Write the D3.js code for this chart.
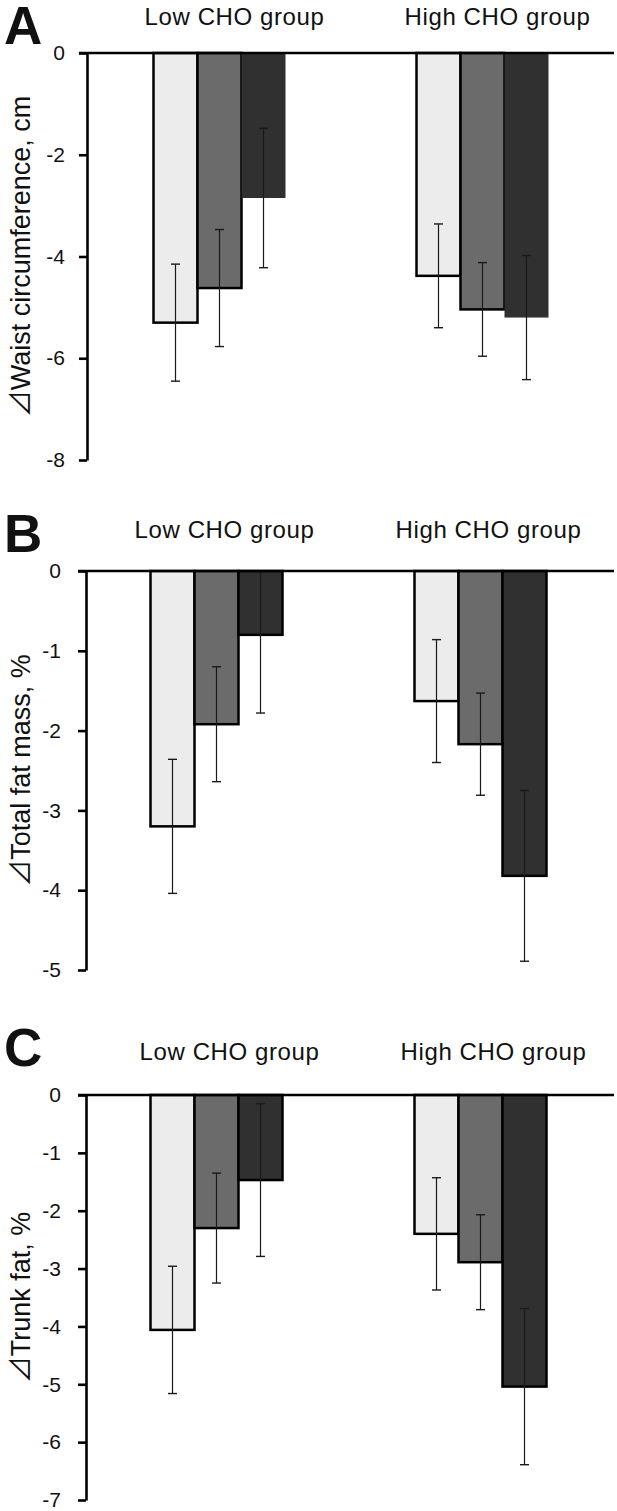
<!DOCTYPE html>
<html>
<head>
<meta charset="utf-8">
<script src="https://cdn.jsdelivr.net/npm/d3@7"></script>
<style>
  html, body { margin: 0; padding: 0; background: #fff; }
  svg { display: block; }
  text { font-family: "Liberation Sans", Arial, sans-serif; fill: #111; }
</style>
</head>
<body>
<svg id="chart" width="617" height="1511"></svg>
<script>
// ---------- data ----------
const groups = ["Low CHO group", "High CHO group"];
const series = ["s1", "s2", "s3"];

// Panel A: ΔWaist circumference, cm
const waistMeans = [[-5.30, -4.62, -2.85], [-4.38, -5.04, -5.20]];
const waistErrs  = [[1.15, 1.15, 1.37], [1.02, 0.92, 1.22]];
const waistTicks = [0, -2, -4, -6, -8];

// Panel B: ΔTotal fat mass, %
const fatMeans = [[-3.20, -1.92, -0.80], [-1.63, -2.17, -3.82]];
const fatErrs  = [[0.84, 0.72, 0.98], [0.77, 0.64, 1.07]];
const fatTicks = [0, -1, -2, -3, -4, -5];

// Panel C: ΔTrunk fat, %
const trunkMeans = [[-4.06, -2.30, -1.47], [-2.40, -2.89, -5.04]];
const trunkErrs  = [[1.10, 0.95, 1.32], [0.97, 0.82, 1.35]];
const trunkTicks = [0, -1, -2, -3, -4, -5, -6, -7];

const panelLetters = ["A", "B", "C"];
const yTitles = ["Waist circumference, cm", "Total fat mass, %", "Trunk fat, %"];

// ---------- layout / styles ----------
const colors = d3.scaleOrdinal().domain(series).range(["#ececec", "#6b6b6b", "#303030"]);
const svg = d3.select("#chart");

const panels = [
  { letter: panelLetters[0], title: yTitles[0], means: waistMeans, errs: waistErrs, ticks: waistTicks,
    zeroY: 53, bottomY: 460, axisX: 87, c1: 219.5, c2: 482.5, labelDx: 15, labelDy: 28, letterY: 44,
    tickPad: 14, darkStroke: false },
  { letter: panelLetters[1], title: yTitles[1], means: fatMeans, errs: fatErrs, ticks: fatTicks,
    zeroY: 571, bottomY: 970, axisX: 86, c1: 216.5, c2: 480.5, labelDx: 8, labelDy: 33, letterY: 552,
    tickPad: 17, darkStroke: true },
  { letter: panelLetters[2], title: yTitles[2], means: trunkMeans, errs: trunkErrs, ticks: trunkTicks,
    zeroY: 1095, bottomY: 1500, axisX: 86, c1: 216.5, c2: 480.5, labelDx: 13, labelDy: 35, letterY: 1066,
    tickPad: 17, darkStroke: true }
];

panels.forEach(p => {
  const g = svg.append("g");
  const y = d3.scaleLinear()
    .domain([0, d3.min(p.ticks)])
    .range([p.zeroY, p.bottomY]);
  const xg = d3.scalePoint().domain(groups).range([p.c1, p.c2]);
  const xs = d3.scaleBand().domain(series).range([-66, 66]).paddingInner(0);

  // bars
  groups.forEach((grp, gi) => {
    series.forEach((s, si) => {
      const v = p.means[gi][si];
      const x0 = xg(grp) + xs(s);
      g.append("rect")
        .attr("x", x0)
        .attr("y", y(0))
        .attr("width", xs.bandwidth())
        .attr("height", y(v) - y(0))
        .attr("fill", colors(s))
        .attr("stroke", (si === 2 && !p.darkStroke) ? "none" : "#000")
        .attr("stroke-width", 2.5);
    });
  });

  // error bars
  groups.forEach((grp, gi) => {
    series.forEach((s, si) => {
      const v = p.means[gi][si];
      const e = p.errs[gi][si];
      const cx = xg(grp) + xs(s) + xs.bandwidth() / 2;
      const hi = Math.min(0, v + e);
      const lo = v - e;
      g.append("line")
        .attr("x1", cx).attr("x2", cx)
        .attr("y1", y(hi)).attr("y2", y(lo))
        .attr("stroke", "#1a1a1a").attr("stroke-width", 1.2);
      g.append("line")
        .attr("x1", cx - 4.5).attr("x2", cx + 4.5)
        .attr("y1", y(lo)).attr("y2", y(lo))
        .attr("stroke", "#1a1a1a").attr("stroke-width", 1.4);
      if (v + e < 0) {
        g.append("line")
          .attr("x1", cx - 4.5).attr("x2", cx + 4.5)
          .attr("y1", y(hi)).attr("y2", y(hi))
          .attr("stroke", "#1a1a1a").attr("stroke-width", 1.4);
      }
    });
  });

  // y axis
  const axis = d3.axisLeft(y)
    .tickValues(p.ticks)
    .tickFormat(d => String(d))
    .tickSize(8)
    .tickSizeOuter(0)
    .tickPadding(p.tickPad);
  const ag = g.append("g").attr("transform", `translate(${p.axisX},0)`).call(axis);
  ag.select(".domain").attr("stroke", "#000").attr("stroke-width", 2.6);
  ag.selectAll(".tick line").attr("stroke", "#000").attr("stroke-width", 2.6);
  ag.selectAll(".tick text")
    .style("font-family", "'Liberation Sans', Arial, sans-serif")
    .style("font-size", "21px")
    .attr("fill", "#111");

  // zero line
  g.append("line")
    .attr("x1", p.axisX - 8).attr("x2", 614)
    .attr("y1", y(0)).attr("y2", y(0))
    .attr("stroke", "#000").attr("stroke-width", 2.6);

  // group labels
  groups.forEach(grp => {
    g.append("text")
      .attr("x", xg(grp) + p.labelDx)
      .attr("y", y(0) - p.labelDy)
      .attr("text-anchor", "middle")
      .style("font-size", "24px")
      .style("letter-spacing", "0.6px")
      .text(grp);
  });

  // panel letter
  g.append("text")
    .attr("x", 4)
    .attr("y", p.letterY)
    .style("font-size", "53px")
    .style("font-weight", "bold")
    .attr("fill", "#000")
    .text(p.letter);

  // y title
  const midY = (y(0) + y(d3.min(p.ticks))) / 2;
  const t = g.append("text")
    .attr("transform", `translate(30,${midY}) rotate(-90)`)
    .attr("text-anchor", "middle")
    .style("font-size", "27px");
  t.append("tspan").style("font-family", "'Noto Sans CJK JP', 'DejaVu Sans', sans-serif").text("⊿");
  t.append("tspan").text(p.title);
});
</script>
</body>
</html>
